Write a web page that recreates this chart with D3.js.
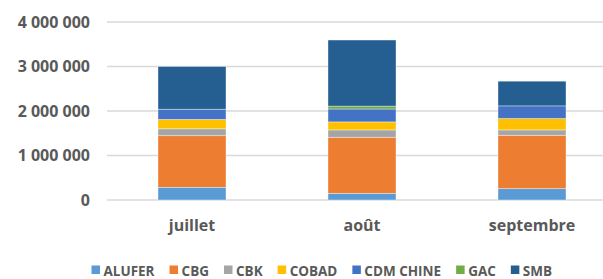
<!DOCTYPE html>
<html>
<head>
<meta charset="utf-8">
<script src="https://cdn.jsdelivr.net/npm/d3@7"></script>
<style>
  body { margin: 0; background: #fff; }
  text { font-family: "Open Sans", sans-serif; font-weight: bold; fill: #595959; }
</style>
</head>
<body>
<div id="chart"></div>
<script>
// data
const months = ["juillet", "août", "septembre"];
const companies = ["ALUFER", "CBG", "CBK", "COBAD", "CDM CHINE", "GAC", "SMB"];
const colors = ["#5B9BD5", "#ED7D31", "#A5A5A5", "#FFC000", "#4472C4", "#70AD47", "#255E91"];
const ALUFER = [285000, 150000, 255000];
const CBG = [1160000, 1260000, 1200000];
const CBK = [155000, 165000, 120000];
const COBAD = [210000, 180000, 255000];
const CDM_CHINE = [230000, 290000, 285000];
const GAC = [0, 65000, 0];
const SMB = [960000, 1485000, 555000];
const yTicks = [0, 1000000, 2000000, 3000000, 4000000];

const width = 603, height = 279;
const svg = d3.select('#chart').append('svg')
  .attr('width', width)
  .attr('height', height);

const series = [ALUFER, CBG, CBK, COBAD, CDM_CHINE, GAC, SMB];
const rows = months.map((m, i) => {
  let r = { month: m };
  companies.forEach((c, j) => { r[c] = series[j][i]; });
  return r;
});
const stacked = d3.stack().keys(companies)(rows);

const x = d3.scaleBand().domain(months).range([107, 617]).paddingInner(0.6).paddingOuter(0.3);
const y = d3.scaleLinear().domain([0, 4000000]).range([200, 22]);
const color = d3.scaleOrdinal().domain(companies).range(colors);

const fmt = v => d3.format(",")(v).replace(/,/g, " ");

// gridlines
svg.append('g').selectAll('line')
  .data(yTicks)
  .enter()
  .append('line')
  .attr('x1', 107)
  .attr('x2', width)
  .attr('y1', d => y(d))
  .attr('y2', d => y(d))
  .attr('stroke', '#d9d9d9')
  .attr('stroke-width', 1.5);

// y axis labels
svg.append('g').selectAll('text')
  .data(yTicks)
  .enter()
  .append('text')
  .attr('x', 90)
  .attr('y', d => y(d))
  .attr('dy', '0.36em')
  .attr('text-anchor', 'end')
  .style('font-size', '16px')
  .text(d => fmt(d));

// bars
svg.append('g').selectAll('g')
  .data(stacked)
  .enter()
  .append('g')
  .attr('fill', d => color(d.key))
  .selectAll('rect')
  .data(d => d)
  .enter()
  .append('rect')
  .attr('x', d => x(d.data.month))
  .attr('width', x.bandwidth())
  .attr('y', d => y(d[1]))
  .attr('height', d => y(d[0]) - y(d[1]))
  .attr('stroke', '#ffffff')
  .attr('stroke-opacity', 0.5)
  .attr('stroke-width', 0.75);

// x labels
svg.append('g').selectAll('text')
  .data(months)
  .enter()
  .append('text')
  .attr('x', d => x(d) + x.bandwidth() / 2)
  .attr('y', 231)
  .attr('text-anchor', 'middle')
  .style('font-size', '16px')
  .text(d => d);

// legend
const legend = svg.append('g');
let lx = 91.5;
companies.forEach((c, i) => {
  legend.append('rect')
    .attr('x', lx)
    .attr('y', 265.5)
    .attr('width', 8.5)
    .attr('height', 8.5)
    .attr('fill', color(c));
  let t = legend.append('text')
    .attr('x', lx + 12)
    .attr('y', 275.5)
    .style('font-size', '13.5px')
    .text(c);
  lx += 12 + t.node().getComputedTextLength() + 15;
});
</script>
</body>
</html>
